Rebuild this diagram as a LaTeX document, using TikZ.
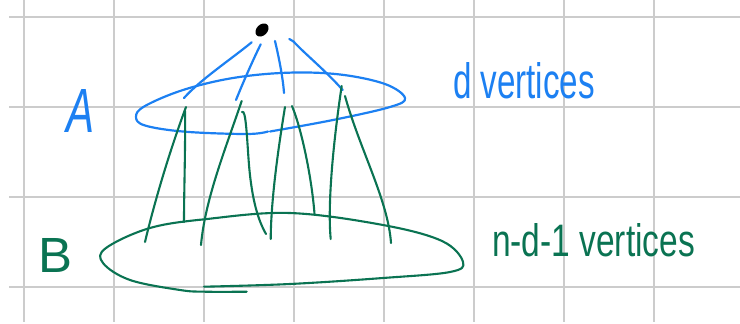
\documentclass[tikz,border=0pt]{standalone}
\usepackage{fontspec}
\setmainfont{Liberation Sans}
\usetikzlibrary{shapes.geometric}
\definecolor{inkblue}{RGB}{28,128,242}
\definecolor{inkgreen}{RGB}{10,115,82}
\definecolor{gridgray}{RGB}{204,204,204}
\tikzset{
  gridline/.style={draw=gridgray, line width=1.2pt},
  bluestroke/.style={draw=inkblue, line width=2.2pt, line cap=round, line join=round},
  greenstroke/.style={draw=inkgreen, line width=2.1pt, line cap=round, line join=round},
  label/.style={inner sep=0pt, outer sep=0pt}
}
\begin{document}
\begin{tikzpicture}[x=1pt,y=-1pt]
\useasboundingbox (0,0) rectangle (740,324);
% grid
\foreach \gx in {24,114,204,294,384,474,564,654} {\draw[gridline] (\gx,0) -- (\gx,322);}
\foreach \gy in {17,107,197,287} {\draw[gridline] (9,\gy) -- (740,\gy);}
% top vertex
\node[ellipse, fill=black, inner sep=0pt, minimum width=15pt, minimum height=11pt, rotate=45] (v) at (262,30) {};
% blue edge ends
\coordinate (b1s) at (251.7,42.3); \coordinate (b1e) at (184,98);
\coordinate (b2s) at (260.7,44.3); \coordinate (b2e) at (236,100);
\coordinate (b3s) at (275,41);     \coordinate (b3e) at (284,93);
\coordinate (b4s) at (289.3,39);   \coordinate (b4h) at (293.5,41.5); \coordinate (b4e) at (342.7,90);
\draw[bluestroke] (b1s) .. controls (230,60) and (200,80) .. (b1e);
\draw[bluestroke] (b2s) .. controls (252,62) and (242,85) .. (b2e);
\draw[bluestroke] (b3s) .. controls (279,58) and (283,78) .. (b3e);
\draw[bluestroke] (b4s) -- (b4h) .. controls (305,54) and (325,70) .. (b4e);
% set A
\draw[bluestroke] plot[smooth, tension=0.6] coordinates {(270,131.5) (333,120) (390,107) (405,98) (385,84) (340,74.5) (288,72.7) (233,78) (183,90) (145,106) (136,116.7) (145,125.5) (185,131.7) (247,134) (268,131.5)};
% green edge ends
\coordinate (g1t) at (186,107);   \coordinate (g1l) at (145,242);
\coordinate (g1u) at (185,111);   \coordinate (g1r) at (184,222);
\coordinate (g2t) at (241.7,101); \coordinate (g2l) at (201,245);
\coordinate (g2u) at (242,112);   \coordinate (g2r) at (266,234);
\coordinate (g3t) at (285,107);   \coordinate (g3l) at (270.7,239);
\coordinate (g3u) at (292,106);   \coordinate (g3r) at (314.5,214);
\coordinate (g4t) at (341.7,86);  \coordinate (g4l) at (330.7,239);
\coordinate (g4u) at (345,96);    \coordinate (g4r) at (391,243);
\draw[greenstroke] (g1t) .. controls (170,150) and (155,200) .. (g1l);
\draw[greenstroke] (g1u) .. controls (185.5,150) and (184,190) .. (g1r);
\draw[greenstroke] (g2t) .. controls (225,150) and (205,200) .. (g2l);
\draw[greenstroke] (g2u) .. controls (246,108) and (247,140) .. (249,165) .. controls (252,200) and (258,220) .. (g2r);
\draw[greenstroke] (g3t) .. controls (278,150) and (271,200) .. (g3l);
\draw[greenstroke] (g3u) .. controls (302,130) and (312,180) .. (g3r);
\draw[greenstroke] (g4t) .. controls (335,130) and (327,200) .. (g4l);
\draw[greenstroke] (g4u) .. controls (360,150) and (388,200) .. (g4r);
% set B
\draw[greenstroke] plot[smooth, tension=0.6] coordinates {(204,286.7) (290,284) (383,278) (450,272) (463,262) (442,241) (383,225) (290,213) (207,219) (150,228) (106,248) (103,263) (130,280) (180,290) (205,291.7) (246.7,291.7)};
% labels
\node[label, text=inkblue, anchor=center] (la) at (80,110.5) {\resizebox{28pt}{43pt}{\itshape A}};
\node[label, text=inkgreen, anchor=center] (lb) at (56,255) {\resizebox{34pt}{34pt}{B}};
\node[label, text=inkblue, anchor=base west] (ld) at (453,98) {\resizebox{142pt}{36pt}{d vertices}};
\node[label, text=inkgreen, anchor=base west] (ln) at (492,256) {\resizebox{203pt}{33pt}{n-d-1 vertices}};
\end{tikzpicture}
\end{document}
